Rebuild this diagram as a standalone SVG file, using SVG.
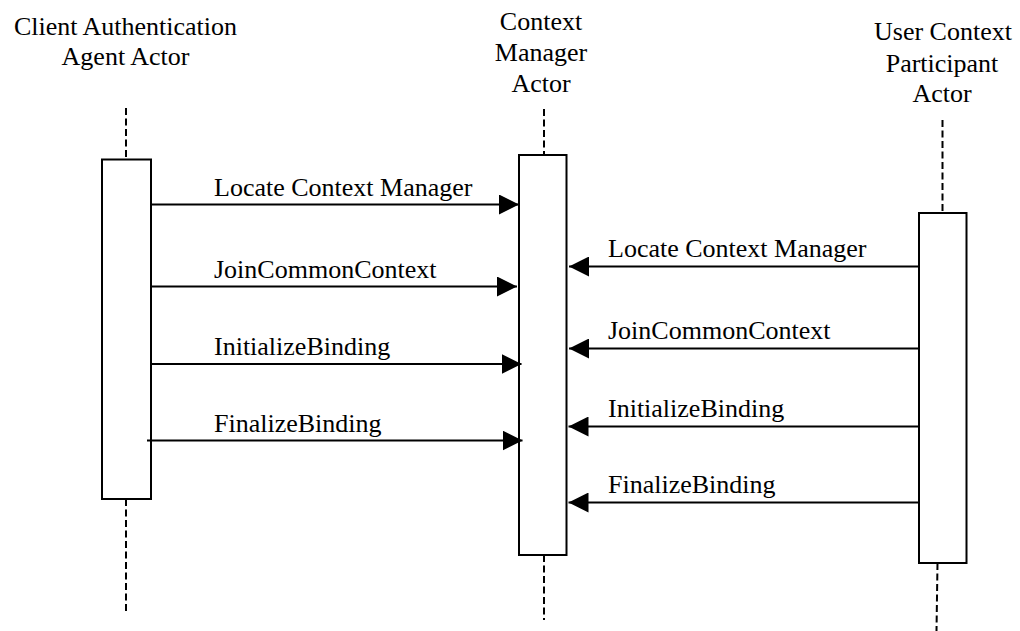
<svg xmlns="http://www.w3.org/2000/svg" width="1020" height="631" viewBox="0 0 1020 631">
<style>
text{font-family:"Liberation Serif","Times New Roman",serif;font-size:26px;fill:#000}
.t{text-anchor:middle}
.box{fill:#fff;stroke:#000;stroke-width:2}
.life{stroke:#000;stroke-width:2;stroke-dasharray:7 3.5;fill:none}
.msg{stroke:#000;stroke-width:2;fill:none;marker-end:url(#ah)}
</style>
<defs>
<marker id="ah" markerUnits="userSpaceOnUse" viewBox="0 0 20 20" refX="20" refY="10" markerWidth="20" markerHeight="20" orient="auto">
<path d="M0,0 L20,10 L0,20 Z" fill="#000"/>
</marker>
</defs>
<rect width="1020" height="631" fill="#fff"/>
<g id="actor-client">
<text class="t" x="125.5" y="35">Client Authentication</text>
<text class="t" x="125.5" y="65">Agent Actor</text>
<line class="life" x1="126" y1="108" x2="126" y2="159"/>
<line class="life" x1="126" y1="499" x2="126" y2="613"/>
<rect class="box" x="102" y="159.5" width="49" height="339.5"/>
</g>
<g id="actor-manager">
<text class="t" x="541" y="30">Context</text>
<text class="t" x="541" y="61">Manager</text>
<text class="t" x="541" y="92">Actor</text>
<line class="life" x1="544" y1="109" x2="544" y2="155"/>
<line class="life" x1="544" y1="555" x2="544" y2="620"/>
<rect class="box" x="519" y="155" width="47.5" height="400"/>
</g>
<g id="actor-user">
<text class="t" x="943" y="40">User Context</text>
<text class="t" x="942" y="71.5">Participant</text>
<text class="t" x="942" y="102">Actor</text>
<line class="life" x1="942.5" y1="120" x2="942.5" y2="213"/>
<line class="life" x1="937.5" y1="563" x2="936.5" y2="631"/>
<rect class="box" x="919" y="213" width="47.5" height="350"/>
</g>
<g id="connectors">
<line class="msg" x1="150" y1="204.5" x2="519" y2="204.5"/>
<line class="msg" x1="150" y1="286.5" x2="517" y2="286.5"/>
<line class="msg" x1="150" y1="364" x2="521.5" y2="364"/>
<line class="msg" x1="147" y1="440.5" x2="522.5" y2="440.5"/>
<line class="msg" x1="918.5" y1="266.5" x2="569" y2="266.5"/>
<line class="msg" x1="918.5" y1="348.5" x2="569" y2="348.5"/>
<line class="msg" x1="918.5" y1="426.5" x2="568.5" y2="426.5"/>
<line class="msg" x1="918.5" y1="502.5" x2="568.5" y2="502.5"/>
<text x="214" y="196">Locate Context Manager</text>
<text x="214" y="278">JoinCommonContext</text>
<text x="214" y="355">InitializeBinding</text>
<text x="214" y="432">FinalizeBinding</text>
<text x="608" y="257">Locate Context Manager</text>
<text x="608" y="339">JoinCommonContext</text>
<text x="608" y="417">InitializeBinding</text>
<text x="608" y="493">FinalizeBinding</text>
</g>
</svg>
